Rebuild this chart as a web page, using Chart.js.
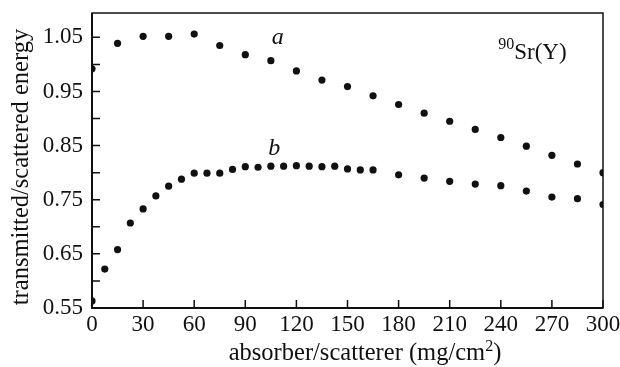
<!DOCTYPE html>
<html>
<head>
<meta charset="utf-8">
<script src="https://cdn.jsdelivr.net/npm/chart.js@4/dist/chart.umd.min.js"></script>
<style>
  html, body { margin: 0; padding: 0; background: #fff; }
  #wrap { width: 620px; height: 367px; }
</style>
</head>
<body>
<div id="wrap"><canvas id="srChart"></canvas></div>
<script>
// curve a (transmitted energy ratio)
const absorberA = [0, 15, 30, 45, 60, 75, 90, 105, 120, 135, 150, 165, 180, 195, 210, 225, 240, 255, 270, 285, 300];
const energyA = [0.992, 1.039, 1.052, 1.052, 1.056, 1.035, 1.018, 1.007, 0.988, 0.971, 0.959, 0.942, 0.926, 0.910, 0.895, 0.880, 0.865, 0.849, 0.832, 0.816, 0.800];

// curve b (scattered energy ratio)
const absorberB = [0, 7.5, 15, 22.5, 30, 37.5, 45, 52.5, 60, 67.5, 75, 82.5, 90, 97.5, 105, 112.5, 120, 127.5, 135, 142.5, 150, 157.5, 165, 180, 195, 210, 225, 240, 255, 270, 285, 300];
const energyB = [0.563, 0.622, 0.658, 0.707, 0.733, 0.757, 0.775, 0.788, 0.799, 0.799, 0.799, 0.806, 0.811, 0.810, 0.812, 0.812, 0.813, 0.812, 0.811, 0.812, 0.807, 0.805, 0.805, 0.796, 0.790, 0.784, 0.779, 0.776, 0.766, 0.755, 0.752, 0.741];

const xTicks = [0, 30, 60, 90, 120, 150, 180, 210, 240, 270, 300];
const yTicks = [0.55, 0.65, 0.75, 0.85, 0.95, 1.05];
const yMinorTicks = [0.60, 0.70, 0.80, 0.90, 1.00];

const ink = '#111';
const serif = '"Liberation Serif", "DejaVu Serif", serif';

function toPoints(xs, ys) {
  return xs.map((x, i) => ({ x: x, y: ys[i] }));
}

// frame, inward ticks and the text labels
const framePlugin = {
  id: 'frame',
  afterDraw(chart) {
    const ctx = chart.ctx;
    const area = chart.chartArea;
    const xs = chart.scales.x;
    const ys = chart.scales.y;
    ctx.save();
    ctx.strokeStyle = ink;
    ctx.lineWidth = 1.5;
    ctx.strokeRect(area.left, area.top, area.right - area.left, area.bottom - area.top);
    ctx.lineWidth = 2;
    ctx.beginPath();
    ctx.moveTo(area.left, area.top);
    ctx.lineTo(area.left, area.bottom);
    ctx.lineTo(area.right, area.bottom);
    ctx.stroke();

    ctx.lineWidth = 1.5;
    ctx.beginPath();
    xTicks.forEach(v => {
      const px = xs.getPixelForValue(v);
      ctx.moveTo(px, area.bottom);
      ctx.lineTo(px, area.bottom - 8);
    });
    yTicks.concat(yMinorTicks).forEach(v => {
      const py = ys.getPixelForValue(v);
      ctx.moveTo(area.left, py);
      ctx.lineTo(area.left + 8, py);
    });
    ctx.stroke();

    ctx.fillStyle = ink;
    ctx.textBaseline = 'alphabetic';
    ctx.textAlign = 'left';
    ctx.font = 'italic 24px ' + serif;
    ctx.fillText('a', xs.getPixelForValue(105.5), ys.getPixelForValue(1.037));
    ctx.fillText('b', xs.getPixelForValue(103.5), ys.getPixelForValue(0.833));

    // 90Sr(Y)
    let tx = xs.getPixelForValue(238.5);
    const ty = ys.getPixelForValue(1.01);
    ctx.font = '16px ' + serif;
    ctx.fillText('90', tx, ty - 10);
    tx += ctx.measureText('90').width;
    ctx.font = '23px ' + serif;
    ctx.fillText('Sr(Y)', tx, ty);

    // x axis title with superscript
    const main = 'absorber/scatterer (mg/cm';
    ctx.font = '24.5px ' + serif;
    const w1 = ctx.measureText(main).width;
    const w3 = ctx.measureText(')').width;
    ctx.font = '16px ' + serif;
    const w2 = ctx.measureText('2').width;
    let sx = 365 - (w1 + w2 + w3) / 2;
    const sy = 360;
    ctx.font = '24.5px ' + serif;
    ctx.fillText(main, sx, sy);
    sx += w1;
    ctx.font = '16px ' + serif;
    ctx.fillText('2', sx, sy - 9);
    sx += w2;
    ctx.font = '24.5px ' + serif;
    ctx.fillText(')', sx, sy);

    // y axis title
    ctx.translate(22, 167);
    ctx.rotate(-Math.PI / 2);
    ctx.textAlign = 'center';
    ctx.textBaseline = 'middle';
    ctx.font = '24.5px ' + serif;
    ctx.fillText('transmitted/scattered energy', 0, 0);
    ctx.restore();
  }
};

const srChart = new Chart(document.getElementById('srChart'), {
  type: 'scatter',
  data: {
    datasets: [
      {
        label: 'a',
        data: toPoints(absorberA, energyA),
        pointRadius: 3.6,
        pointBackgroundColor: ink,
        pointBorderWidth: 0,
        showLine: false
      },
      {
        label: 'b',
        data: toPoints(absorberB, energyB),
        pointRadius: 3.6,
        pointBackgroundColor: ink,
        pointBorderWidth: 0,
        showLine: false
      }
    ]
  },
  options: {
    responsive: true,
    maintainAspectRatio: false,
    animation: false,
    layout: { padding: { left: 0, right: 17, top: 13, bottom: 0 } },
    plugins: {
      legend: { display: false },
      tooltip: { enabled: false }
    },
    scales: {
      x: {
        type: 'linear',
        min: 0,
        max: 300,
        afterBuildTicks: scale => { scale.ticks = xTicks.map(v => ({ value: v })); },
        afterFit: scale => {
          scale.height = 59;
          scale.paddingLeft = 0;
          scale.paddingRight = 0;
        },
        grid: { display: false, drawTicks: false },
        border: { display: false },
        ticks: {
          color: ink,
          padding: 3,
          maxRotation: 0,
          font: { family: serif, size: 23 }
        }
      },
      y: {
        type: 'linear',
        min: 0.55,
        max: 1.095,
        afterBuildTicks: scale => { scale.ticks = yTicks.map(v => ({ value: v })); },
        afterFit: scale => {
          scale.width = 92;
          scale.paddingTop = 0;
          scale.paddingBottom = 0;
        },
        grid: { display: false, drawTicks: false },
        border: { display: false },
        ticks: {
          color: ink,
          padding: 9,
          font: { family: serif, size: 23 },
          callback: v => v.toFixed(2)
        }
      }
    }
  },
  plugins: [framePlugin]
});
</script>
</body>
</html>
